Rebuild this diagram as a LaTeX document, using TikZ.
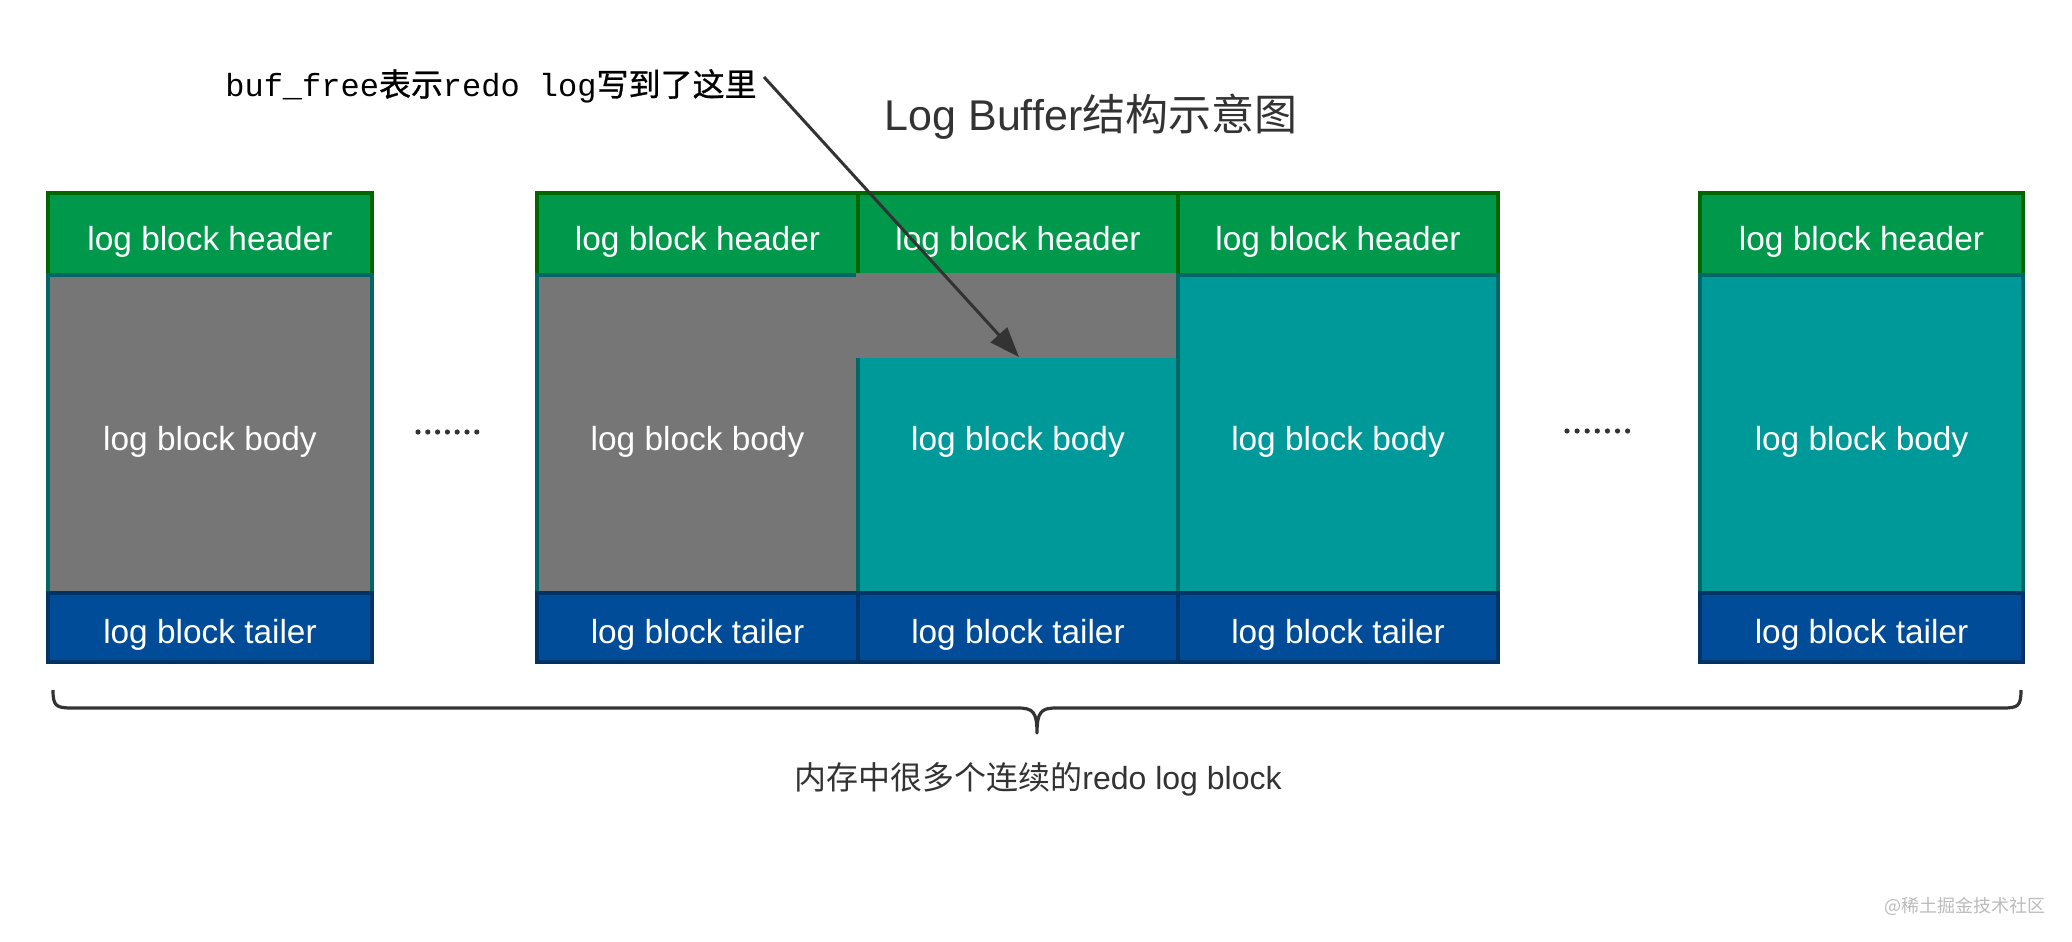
\documentclass[tikz,border=0pt]{standalone}
\usepackage{fontspec}
\setmainfont{Liberation Sans}
\newfontfamily\cjk{Noto Sans CJK SC}
\newfontfamily\cjkb[FakeBold=0.8]{Noto Sans CJK SC}
\newfontfamily\monof{Liberation Mono}
\usetikzlibrary{arrows.meta}
\definecolor{hdrfill}{HTML}{00994C}
\definecolor{hdrline}{HTML}{006600}
\definecolor{grayfill}{HTML}{767676}
\definecolor{tealfill}{HTML}{009999}
\definecolor{bodyline}{HTML}{006666}
\definecolor{tailfill}{HTML}{004C99}
\definecolor{tailline}{HTML}{003366}
\definecolor{ink}{HTML}{333333}
\definecolor{wmark}{HTML}{BBBBBB}
\tikzset{
  cell/.style={rectangle, draw, line width=1.75pt, inner sep=0pt, text=white,
    text height=16pt, text depth=0pt,
    font=\fontsize{16.7}{19}\selectfont},
  hdr/.style={cell, fill=hdrfill, draw=hdrline, minimum height=41pt},
  bodygray/.style={cell, fill=grayfill, draw=bodyline, minimum height=159pt},
  bodyteal/.style={cell, fill=tealfill, draw=bodyline, minimum height=159pt},
  tailbox/.style={cell, fill=tailfill, draw=tailline, minimum height=34.5pt},
  arr/.style={draw=ink, line width=1.5pt, -{Triangle[length=15pt,width=11pt]}},
  bracel/.style={draw=ink, line width=1.6pt, line join=round},
  dotc/.style={fill=ink}
}
\begin{document}
\begin{tikzpicture}[x=0.5pt,y=-0.5pt]
\useasboundingbox (0,0) rectangle (2072,942);

% headers
\node[hdr, minimum width=162pt]   (h1) at (210,234)    {log block header};
\node[hdr, minimum width=160.5pt] (h2) at (697.5,234)  {log block header};
\node[hdr, minimum width=160pt]   (h3) at (1018,234)   {log block header};
\node[hdr, minimum width=160pt]   (h4) at (1338,234)   {log block header};
\node[hdr, minimum width=161.5pt] (h5) at (1861.5,234) {log block header};

% bodies
\node[bodygray, minimum width=162pt]   (b1) at (210,434)    {log block body};
\node[bodygray, minimum width=160.5pt] (b2) at (697.5,434)  {log block body};
\node[bodyteal, minimum width=160pt]   (b3) at (1018,434)   {log block body};
\node[rectangle, fill=grayfill, inner sep=0pt, minimum width=161pt, minimum height=42.5pt] (gap) at (1017,315.5) {};
\node[bodyteal, minimum width=160pt]   (b4) at (1338,434)   {log block body};
\node[bodyteal, minimum width=161.5pt] (b5) at (1861.5,434) {log block body};

% tailers
\node[tailbox, minimum width=162pt]   (t1) at (210,627.5)    {log block tailer};
\node[tailbox, minimum width=160.5pt] (t2) at (697.5,627.5)  {log block tailer};
\node[tailbox, minimum width=160pt]   (t3) at (1018,627.5)   {log block tailer};
\node[tailbox, minimum width=160pt]   (t4) at (1338,627.5)   {log block tailer};
\node[tailbox, minimum width=161.5pt] (t5) at (1861.5,627.5) {log block tailer};

% dots
\foreach \i in {0,...,6} \fill[dotc] (418+\i*9.8,432) circle[radius=1.3pt];
\foreach \i in {0,...,6} \fill[dotc] (1567+\i*10.1,431) circle[radius=1.3pt];

% title
\node[text=ink, inner sep=0pt, font=\fontsize{21.5}{24}\selectfont] (title) at (1091,117) {Log Buffer{\cjk 结构示意图}};

% annotation
\node[text=black, inner sep=0pt, anchor=east, font=\fontsize{16}{19}\selectfont] (ann) at (757,86)
  {{\monof buf\_free}{\cjkb 表示}{\monof redo log}{\cjkb 写到了这里}};
\coordinate (wp) at (1019,357);
\draw[arr] ([shift={(7,-9)}]ann.east) -- (wp);

% brace
\coordinate (bl) at (53,690);
\coordinate (br) at (2021,690);
\coordinate (btip) at (1037,733);
\draw[bracel] (bl) .. controls (53,706) and (56,708) .. (72,708) -- (1018,708)
  .. controls (1033,708) and (1037,712) .. (btip)
  .. controls (1037,712) and (1041,708) .. (1056,708) -- (2003,708)
  .. controls (2018,708) and (2021,706) .. (br);

\node[text=ink, inner sep=0pt, font=\fontsize{16}{19}\selectfont] (lbl) at (1038,779)
  {{\cjk 内存中很多个连续的}redo log block};

% watermark
\node[text=wmark, inner sep=0pt, anchor=east, font=\fontsize{9}{11}\selectfont] (wm) at (2046,906) {{\cjk @稀土掘金技术社区}};
\end{tikzpicture}
\end{document}
